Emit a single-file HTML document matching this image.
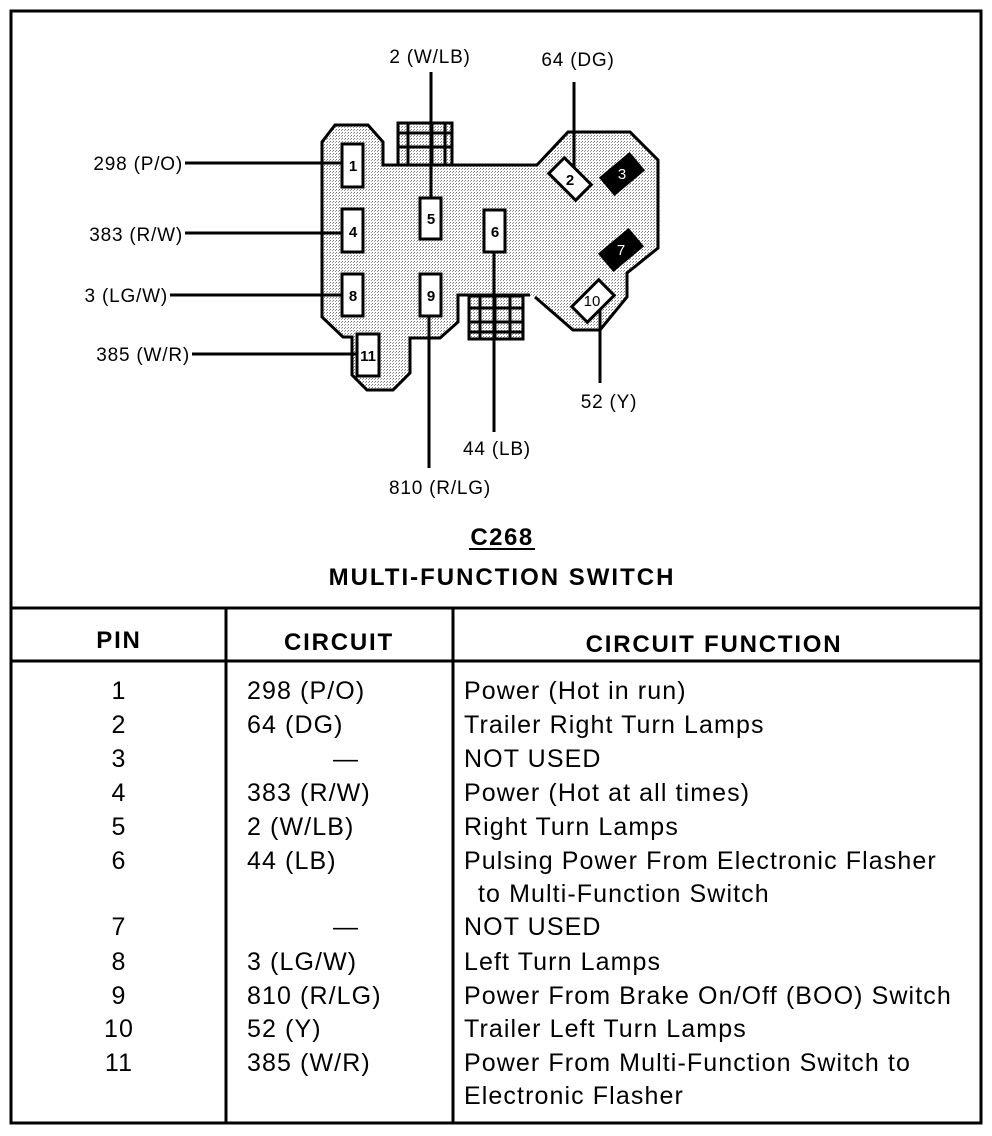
<!DOCTYPE html>
<html><head><meta charset="utf-8"><style>
html,body{margin:0;padding:0;background:#fff;}
svg{display:block;}
text{font-family:"Liberation Sans",Arial,sans-serif;fill:#000;}
</style></head><body>
<svg width="992" height="1136" viewBox="0 0 992 1136" xmlns="http://www.w3.org/2000/svg">
<defs>
<pattern id="dots" width="3" height="3" patternUnits="userSpaceOnUse">
<rect width="3" height="3" fill="#fff"/><rect width="1" height="1" fill="#777"/><rect x="2" y="1" width="1" height="1" fill="#999"/>
</pattern>
</defs>
<rect x="11" y="11" width="970" height="1112" fill="none" stroke="#000" stroke-width="3"/>
<line x1="11" y1="608" x2="981" y2="608" stroke="#000" stroke-width="3"/>
<line x1="11" y1="661" x2="981" y2="661" stroke="#000" stroke-width="3"/>
<line x1="226" y1="608" x2="226" y2="1123" stroke="#000" stroke-width="3"/>
<line x1="453" y1="608" x2="453" y2="1123" stroke="#000" stroke-width="3"/>

<path d="M322,142 L335,125 L368,125 L383,142 L383,165 L537,165 L568,132 L630,132 L658,160 L658,248 L627,273 L627,297 L600,330 L573,330 L535,297 L458,295 L458,322 L440,338 L410,338 L410,373 L393,390 L367,390 L352,375 L352,337 L343,337 L322,317 Z" fill="url(#dots)" stroke="none"/>
<path d="M535,297 L573,330 L600,330 L627,297 L627,273 L658,248 L658,160 L630,132 L568,132 L537,165 L383,165 L383,142 L368,125 L335,125 L322,142 L322,317 L343,337 L352,337 L352,375 L367,390 L393,390 L410,373 L410,338 L440,338 L458,322 L458,295 L530,295" fill="none" stroke="#000" stroke-width="3"/>

<g stroke="#000" stroke-width="3" fill="none">
<rect x="398" y="123" width="54" height="42" fill="url(#dots)"/>
<line x1="408" y1="123" x2="408" y2="165"/><line x1="432" y1="123" x2="432" y2="165"/><line x1="445" y1="123" x2="445" y2="165"/>
<line x1="398" y1="133" x2="452" y2="133"/><line x1="398" y1="147" x2="452" y2="147"/>
<rect x="469" y="296" width="54" height="43" fill="url(#dots)"/>
<line x1="480" y1="296" x2="480" y2="339"/><line x1="495" y1="296" x2="495" y2="339"/><line x1="510" y1="296" x2="510" y2="339"/>
<line x1="469" y1="308" x2="523" y2="308"/><line x1="469" y1="322" x2="523" y2="322"/><line x1="469" y1="332" x2="523" y2="332"/>
</g>

<g stroke="#000" stroke-width="3">
<line x1="185" y1="163" x2="342" y2="163"/>
<line x1="185" y1="233" x2="342" y2="233"/>
<line x1="170" y1="295" x2="342" y2="295"/>
<line x1="192" y1="354" x2="357" y2="354"/>
<line x1="431" y1="72" x2="431" y2="197"/>
<line x1="574" y1="82" x2="574" y2="172"/>
<line x1="429" y1="317" x2="429" y2="468"/>
<line x1="494" y1="253" x2="494" y2="432"/>
<line x1="600" y1="302" x2="600" y2="383"/>
</g>

<g stroke="#000" stroke-width="3" fill="#fff">
<rect x="342" y="144" width="21" height="43"/>
<rect x="342" y="209" width="21" height="43"/>
<rect x="342" y="274" width="21" height="42"/>
<rect x="357" y="334" width="22" height="42"/>
<rect x="420" y="198" width="21" height="41"/>
<rect x="420" y="274" width="21" height="42"/>
<rect x="484" y="210" width="21" height="42"/>
<rect x="-11" y="-19" width="22" height="38" transform="translate(570,179) rotate(-45)"/>
<rect x="-11" y="-19" width="22" height="38" transform="translate(593,301) rotate(45)"/>
</g>
<g fill="#000">
<rect x="-12" y="-20" width="24" height="40" transform="translate(622,174) rotate(50)"/>
<rect x="-12" y="-20" width="24" height="40" transform="translate(621,250) rotate(50)"/>
</g>
<g font-size="15" font-weight="bold" text-anchor="middle">
<text x="353" y="171">1</text>
<text x="353" y="237">4</text>
<text x="353" y="301">8</text>
<text x="368" y="361">11</text>
<text x="431" y="224">5</text>
<text x="431" y="301">9</text>
<text x="495" y="237">6</text>
<text x="570" y="185">2</text>
<text x="592" y="306" font-weight="normal">10</text>
<text x="622" y="179" style="fill:#fff" font-weight="normal">3</text>
<text x="621" y="255" style="fill:#fff" font-weight="normal">7</text>
</g>

<g font-size="19" letter-spacing="0.8">
<text x="183" y="170" text-anchor="end">298 (P/O)</text>
<text x="183" y="241" text-anchor="end">383 (R/W)</text>
<text x="168" y="302" text-anchor="end">3 (LG/W)</text>
<text x="190" y="361" text-anchor="end">385 (W/R)</text>
<text x="430" y="63" text-anchor="middle">2 (W/LB)</text>
<text x="578" y="66" text-anchor="middle">64 (DG)</text>
<text x="609" y="408" text-anchor="middle">52 (Y)</text>
<text x="497" y="455" text-anchor="middle">44 (LB)</text>
<text x="440" y="494" text-anchor="middle">810 (R/LG)</text>
</g>
<text x="502" y="545" font-size="24" font-weight="bold" letter-spacing="1.5" text-anchor="middle">C268</text>
<line x1="469" y1="549" x2="535" y2="549" stroke="#000" stroke-width="2"/>
<text x="502" y="585" font-size="24" font-weight="bold" letter-spacing="2" text-anchor="middle">MULTI-FUNCTION SWITCH</text>

<g font-size="24" font-weight="bold" letter-spacing="1.8" text-anchor="middle">
<text x="119" y="648">PIN</text>
<text x="339" y="650">CIRCUIT</text>
<text x="714" y="652">CIRCUIT FUNCTION</text>
</g>
<g font-size="25" letter-spacing="1.1">
<g text-anchor="middle">
<text x="119" y="699">1</text><text x="119" y="733">2</text><text x="119" y="767">3</text><text x="119" y="801">4</text>
<text x="119" y="835">5</text><text x="119" y="869">6</text><text x="119" y="935">7</text><text x="119" y="970">8</text>
<text x="119" y="1004">9</text><text x="119" y="1037">10</text><text x="119" y="1071">11</text>
</g>
<text x="247" y="699">298 (P/O)</text>
<text x="247" y="733">64 (DG)</text>
<text x="333" y="767">—</text>
<text x="247" y="801">383 (R/W)</text>
<text x="247" y="835">2 (W/LB)</text>
<text x="247" y="869">44 (LB)</text>
<text x="333" y="935">—</text>
<text x="247" y="970">3 (LG/W)</text>
<text x="247" y="1004">810 (R/LG)</text>
<text x="247" y="1037">52 (Y)</text>
<text x="247" y="1071">385 (W/R)</text>

<text x="464" y="699">Power (Hot in run)</text>
<text x="464" y="733">Trailer Right Turn Lamps</text>
<text x="464" y="767">NOT USED</text>
<text x="464" y="801">Power (Hot at all times)</text>
<text x="464" y="835">Right Turn Lamps</text>
<text x="464" y="869">Pulsing Power From Electronic Flasher</text>
<text x="478" y="902">to Multi-Function Switch</text>
<text x="464" y="935">NOT USED</text>
<text x="464" y="970">Left Turn Lamps</text>
<text x="464" y="1004">Power From Brake On/Off (BOO) Switch</text>
<text x="464" y="1037">Trailer Left Turn Lamps</text>
<text x="464" y="1071">Power From Multi-Function Switch to</text>
<text x="464" y="1104">Electronic Flasher</text>
</g>
</svg>
</body></html>
